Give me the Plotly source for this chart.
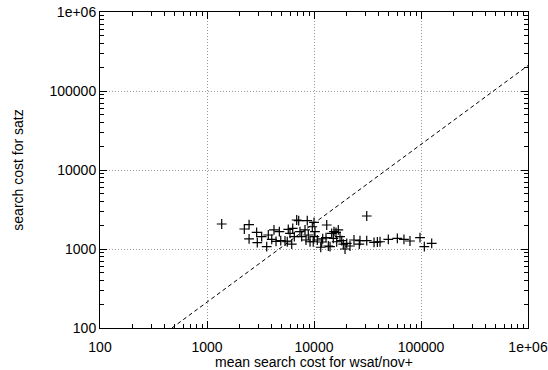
import plotly.graph_objects as go

# scatter data: mean search cost for wsat/nov+ (x) vs search cost for satz (y)
wsat_cost = [1372, 2233, 2473, 2473, 2911, 2951, 3244, 3614, 3741, 4028,
             4227, 4415, 4745, 4890, 5357, 5626, 5750, 5968, 6191, 6327,
             6548, 6890, 7194, 7396, 7674, 8241, 8417, 8650, 8843, 9180,
             9643, 10000, 10210, 10060, 9840, 10740, 11560, 11810, 12060, 12950,
             13150, 13610, 14120, 14630, 15150, 15380, 16060, 16300, 16870, 17500,
             18160, 18800, 19500, 20230, 21700, 23650, 26500, 26900, 31100, 31100,
             36400, 39100, 41400, 49500, 60100, 69300, 78900, 97900, 107400, 125900]
satz_cost = [2072, 1791, 2032, 1340, 1626, 1202, 1432, 1069, 1503, 1327,
             1742, 1250, 1655, 1274, 1262, 1236, 1774, 1581, 1156, 1828,
             1432, 2328, 2281, 1655, 1432, 1742, 1300, 2281, 1503, 1236,
             1914, 2178, 1655, 1432, 1236, 1300, 1052, 1227, 1349, 1390,
             2014, 1091, 1069, 1581, 1365, 1655, 1626, 1236, 1742, 1432,
             1274, 1156, 1000, 1180, 1091, 1300, 1156, 1274, 2618, 1274,
             1216, 1227, 1236, 1327, 1365, 1327, 1262, 1390, 1069, 1180]

# reference line
ref_x = [470, 1000000]
ref_y = [100, 210000]

tick_vals = [100, 1000, 10000, 100000, 1000000]
tick_text = ["100", "1000", "10000", "100000", "1e+06"]
minor_vals = [m * 10 ** e for e in range(2, 6) for m in range(2, 10)]

fig = go.Figure()
fig.add_trace(go.Scatter(x=ref_x, y=ref_y, mode="lines",
                         line=dict(color="black", width=1, dash="4px,3px"),
                         hoverinfo="skip", showlegend=False))
fig.add_trace(go.Scatter(x=wsat_cost, y=satz_cost, mode="markers",
                         marker=dict(symbol="cross-thin", size=7,
                                     line=dict(color="black", width=1.2)),
                         showlegend=False))

font = dict(family="Liberation Sans, Arial, sans-serif", size=14, color="black")
axis_common = dict(type="log", range=[2, 6], tickvals=tick_vals, ticktext=tick_text,
                   ticks="inside", ticklen=7, tickcolor="black", mirror="allticks",
                   showline=True, linecolor="black", linewidth=1,
                   showgrid=True, gridcolor="#999999", griddash="1px,2px", gridwidth=1,
                   zeroline=False, tickfont=font, automargin=False,
                   minor=dict(tickvals=minor_vals, ticks="inside", ticklen=4,
                              tickcolor="black", showgrid=False))

fig.update_layout(
    width=548, height=370,
    margin=dict(l=100, r=20, t=12, b=42),
    paper_bgcolor="white", plot_bgcolor="white",
    font=font,
    xaxis=dict(**axis_common, ticklabelstandoff=6,
               title=dict(text="mean search cost for wsat/nov+", font=font, standoff=1)),
    yaxis=dict(**axis_common, title=dict(text="search cost for satz", font=font, standoff=22)),
)
fig.write_html("out.html", config={"displayModeBar": False},
               post_script="document.body.style.margin='0';document.body.style.overflow='hidden';")
